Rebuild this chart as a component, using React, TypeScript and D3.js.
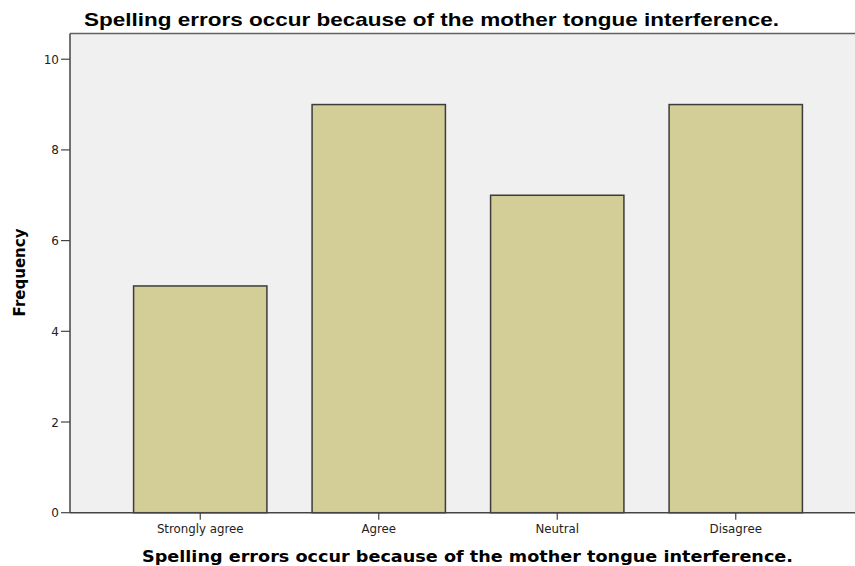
import React from "react";
import * as d3 from "d3";

const categories = ["Strongly agree", "Agree", "Neutral", "Disagree"];
const frequencies = [5, 9, 7, 9];
const yTicks = [0, 2, 4, 6, 8, 10];
const chartTitle = "Spelling errors occur because of the mother tongue interference.";
const xTitle = "Spelling errors occur because of the mother tongue interference.";
const yTitle = "Frequency";

const W = 855;
const H = 566;
const plotLeft = 70;
const plotTop = 33.5;
const plotBottom = 512.7;
const plotRight = 860;

export default function App() {
  const x = d3
    .scaleBand<string>()
    .domain(categories)
    .range([111, 825])
    .paddingInner(0.253)
    .paddingOuter(0.1265);
  const y = d3.scaleLinear().domain([0, 10.567]).range([plotBottom, plotTop]);

  return (
    <svg
      width={W}
      height={H}
      style={{ position: "absolute", left: 0, top: 0, background: "#fff" }}
    >
      <text
        x={84}
        y={26}
        fontFamily="'Liberation Sans Narrow', 'Liberation Sans', Arial, sans-serif"
        fontWeight="bold"
        fontSize={19}
        textLength={695}
        lengthAdjust="spacingAndGlyphs"
        fill="#000"
      >
        {chartTitle}
      </text>
      <rect
        x={plotLeft}
        y={plotTop}
        width={plotRight - plotLeft}
        height={plotBottom - plotTop}
        fill="#f0f0f0"
      />
      {categories.map((c, i) => (
        <rect
          key={c}
          x={x(c)}
          y={y(frequencies[i])}
          width={x.bandwidth()}
          height={plotBottom - y(frequencies[i])}
          fill="#d3ce97"
          stroke="#3c3c3c"
          strokeWidth={1.5}
        />
      ))}
      <line x1={plotLeft} x2={plotRight} y1={plotTop} y2={plotTop} stroke="#606060" strokeWidth={1.5} />
      <line x1={plotLeft} x2={plotLeft} y1={plotTop} y2={plotBottom} stroke="#444" strokeWidth={1.5} />
      <line x1={plotLeft} x2={plotRight} y1={plotBottom} y2={plotBottom} stroke="#444" strokeWidth={1.5} />
      {yTicks.map((t) => (
        <g key={t}>
          <line x1={61} x2={plotLeft} y1={y(t)} y2={y(t)} stroke="#444" strokeWidth={1.2} />
          <text
            x={59}
            y={y(t) + 4.5}
            textAnchor="end"
            fontFamily="'DejaVu Sans', sans-serif"
            fontSize={12}
            fill="#222"
          >
            {t}
          </text>
        </g>
      ))}
      {categories.map((c) => {
        const cx = (x(c) as number) + x.bandwidth() / 2;
        return (
          <g key={c}>
            <line x1={cx} x2={cx} y1={plotBottom} y2={plotBottom + 7} stroke="#444" strokeWidth={1.2} />
            <text
              x={cx}
              y={533}
              textAnchor="middle"
              fontFamily="'DejaVu Sans', sans-serif"
              fontSize={11.8}
              fill="#222"
            >
              {c}
            </text>
          </g>
        );
      })}
      <text
        x={142}
        y={561.5}
        fontFamily="'DejaVu Sans', sans-serif"
        fontWeight="bold"
        fontSize={15}
        textLength={651}
        lengthAdjust="spacingAndGlyphs"
        fill="#000"
      >
        {xTitle}
      </text>
      <text
        transform={`translate(24.5,${272.5}) rotate(-90)`}
        textAnchor="middle"
        fontFamily="'DejaVu Sans', sans-serif"
        fontWeight="bold"
        fontSize={15}
        fill="#000"
      >
        {yTitle}
      </text>
    </svg>
  );
}
